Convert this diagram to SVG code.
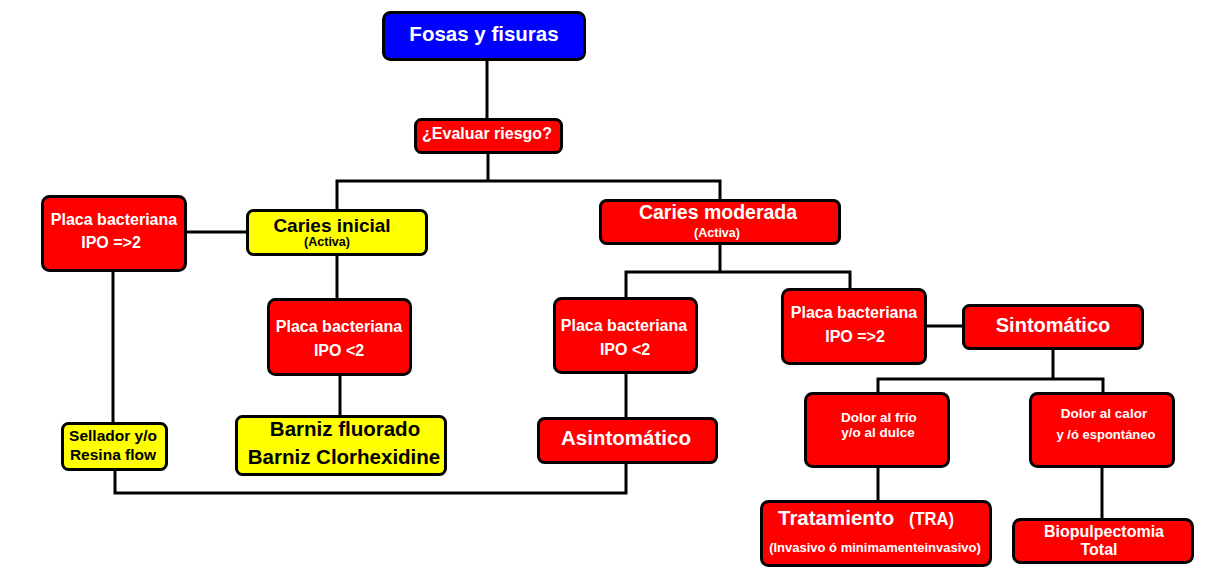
<svg xmlns="http://www.w3.org/2000/svg" width="1206" height="579" viewBox="0 0 1206 579">
<style>
.box{stroke:#000;stroke-width:3;}
.red{fill:#FF0000;}
.yel{fill:#FFFF00;}
.blu{fill:#0000FF;}
text{font-family:"Liberation Sans",Arial,sans-serif;font-weight:bold;text-anchor:middle;}
.w{fill:#fff;}
.k{fill:#000;}
.conn{fill:none;stroke:#000;stroke-width:3;}
</style>
<rect width="1206" height="579" fill="#fff"/>
<g id="connectors">
<polyline class="conn" points="487,59 487,118"/>
<polyline class="conn" points="488,153 488,181"/>
<polyline class="conn" points="337,210 337,181 720,181 720,200"/>
<polyline class="conn" points="186,232 247,232"/>
<polyline class="conn" points="113,271 113,423"/>
<polyline class="conn" points="115,470 115,493 626,493 626,463"/>
<polyline class="conn" points="337,255 337,299"/>
<polyline class="conn" points="340,375 340,416"/>
<polyline class="conn" points="626,298 626,272 850,272 850,289"/>
<polyline class="conn" points="720,244 720,272"/>
<polyline class="conn" points="626,373 626,418"/>
<polyline class="conn" points="926,326 963,326"/>
<polyline class="conn" points="1053,349 1053,379"/>
<polyline class="conn" points="878,393 878,379 1103,379 1103,393"/>
<polyline class="conn" points="878,467 878,501"/>
<polyline class="conn" points="1102,467 1102,519"/>
</g>
<g id="fosas">
<rect class="box blu" x="383.5" y="12.5" width="201" height="47" rx="7"/>
<text class="w" x="484" y="41" font-size="20.5">Fosas y fisuras</text>
</g>
<g id="evaluar">
<rect class="box red" x="415.5" y="119.5" width="146" height="33" rx="6"/>
<text class="w" x="487" y="139" font-size="16">¿Evaluar riesgo?</text>
</g>
<g id="placa-left">
<rect class="box red" x="42.5" y="196.5" width="143" height="74" rx="7"/>
<text class="w" x="114" y="225" font-size="16">Placa bacteriana</text>
<text class="w" x="111" y="248" font-size="16">IPO =&gt;2</text>
</g>
<g id="caries-inicial">
<rect class="box yel" x="247.5" y="210.5" width="179" height="44" rx="6"/>
<text class="k" x="332" y="232" font-size="19">Caries inicial</text>
<text class="k" x="327" y="245.5" font-size="12" textLength="46" lengthAdjust="spacingAndGlyphs">(Activa)</text>
</g>
<g id="caries-moderada">
<rect class="box red" x="600.5" y="200.5" width="239" height="43" rx="6"/>
<text class="w" x="718" y="219" font-size="19.5">Caries moderada</text>
<text class="w" x="717" y="237" font-size="12" textLength="46" lengthAdjust="spacingAndGlyphs">(Activa)</text>
</g>
<g id="placa-mid1">
<rect class="box red" x="268.5" y="299.5" width="142" height="75" rx="7"/>
<text class="w" x="339" y="332" font-size="16">Placa bacteriana</text>
<text class="w" x="339" y="356" font-size="16">IPO &lt;2</text>
</g>
<g id="placa-mid2">
<rect class="box red" x="554.5" y="298.5" width="142" height="74" rx="7"/>
<text class="w" x="624" y="331" font-size="16">Placa bacteriana</text>
<text class="w" x="625" y="355" font-size="16">IPO &lt;2</text>
</g>
<g id="placa-right">
<rect class="box red" x="782.5" y="289.5" width="143" height="74" rx="7"/>
<text class="w" x="854" y="318" font-size="16">Placa bacteriana</text>
<text class="w" x="855" y="342" font-size="16">IPO =&gt;2</text>
</g>
<g id="sintomatico">
<rect class="box red" x="963.5" y="305.5" width="179" height="43" rx="6"/>
<text class="w" x="1053" y="332" font-size="20">Sintomático</text>
</g>
<g id="sellador">
<rect class="box yel" x="62.5" y="423.5" width="104" height="46" rx="6"/>
<text class="k" x="113" y="441" font-size="15.5">Sellador y/o</text>
<text class="k" x="113" y="460" font-size="15.5">Resina flow</text>
</g>
<g id="barniz">
<rect class="box yel" x="236.5" y="416.5" width="209" height="58" rx="6"/>
<text class="k" x="345" y="436" font-size="20.5">Barniz fluorado</text>
<text class="k" x="344" y="464" font-size="20.5">Barniz Clorhexidine</text>
</g>
<g id="asintomatico">
<rect class="box red" x="538.5" y="418.5" width="178" height="44" rx="6"/>
<text class="w" x="626" y="445" font-size="20.5">Asintomático</text>
</g>
<g id="dolor-frio">
<rect class="box red" x="805.5" y="393.5" width="143" height="73" rx="7"/>
<text class="w" x="879" y="422" font-size="13.5">Dolor al frío</text>
<text class="w" x="878" y="437" font-size="13.5">y/o al dulce</text>
</g>
<g id="dolor-calor">
<rect class="box red" x="1030.5" y="393.5" width="143" height="73" rx="7"/>
<text class="w" x="1104" y="418" font-size="13.5">Dolor al calor</text>
<text class="w" x="1106" y="439" font-size="13">y /ó espontáneo</text>
</g>
<g id="tratamiento">
<rect class="box red" x="761.5" y="501.5" width="229" height="64" rx="7"/>
<text class="w" x="778" y="525" font-size="20.5" style="text-anchor:start">Tratamiento</text>
<text class="w" x="909" y="525" font-size="19" style="text-anchor:start" textLength="45" lengthAdjust="spacingAndGlyphs">(TRA)</text>
<text class="w" x="875" y="552" font-size="13">(Invasivo ó minimamenteinvasivo)</text>
</g>
<g id="biopulpectomia">
<rect class="box red" x="1013.5" y="519.5" width="179" height="43" rx="7"/>
<text class="w" x="1104" y="537" font-size="16">Biopulpectomia</text>
<text class="w" x="1099" y="555" font-size="16">Total</text>
</g>
</svg>
